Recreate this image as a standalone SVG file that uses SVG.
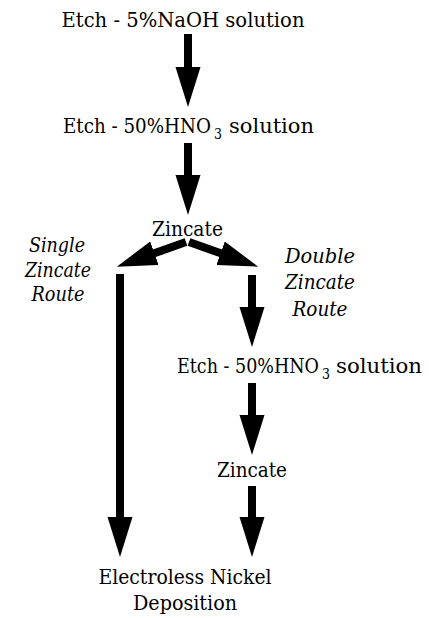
<svg xmlns="http://www.w3.org/2000/svg" width="429" height="618" viewBox="0 0 429 618">
<style>
text{font-family:'DejaVu Serif','Liberation Serif','Times New Roman',serif;fill:#000}
.t{font-size:20px;font-stretch:condensed}
.c{text-anchor:middle}
.sub{font-size:14px}
.i{font-size:20px;font-style:italic;text-anchor:middle}
.s{stroke:#000;stroke-width:8;fill:none}
</style>
<defs>
<marker id="ah" markerUnits="userSpaceOnUse" markerWidth="41" markerHeight="26" refX="1" refY="12.5" orient="auto" viewBox="0 0 41 26">
<path d="M0,0 L40,12.5 L0,25 z" fill="#000"/>
</marker>
</defs>
<rect width="429" height="618" fill="#fff"/>
<g id="n1"><text class="t c" x="183" y="27" textLength="243" lengthAdjust="spacingAndGlyphs">Etch - 5%NaOH solution</text></g>
<g id="n2"><text class="t" x="63" y="133" textLength="148" lengthAdjust="spacingAndGlyphs">Etch - 50%HNO</text><text class="sub" x="214" y="139" textLength="8" lengthAdjust="spacingAndGlyphs">3</text><text class="t" x="229" y="133" textLength="85" lengthAdjust="spacingAndGlyphs">solution</text></g>
<g id="n3"><text class="t c" x="187.5" y="236" textLength="71" lengthAdjust="spacingAndGlyphs">Zincate</text></g>
<g id="n4"><text class="t" x="177" y="373" textLength="142" lengthAdjust="spacingAndGlyphs">Etch - 50%HNO</text><text class="sub" x="322" y="379" textLength="8" lengthAdjust="spacingAndGlyphs">3</text><text class="t" x="336" y="373" textLength="86" lengthAdjust="spacingAndGlyphs">solution</text></g>
<g id="n5"><text class="t c" x="252" y="477" textLength="70" lengthAdjust="spacingAndGlyphs">Zincate</text></g>
<g id="n6"><text class="t c" x="185" y="584" textLength="173" lengthAdjust="spacingAndGlyphs">Electroless Nickel</text><text class="t c" x="185" y="610" textLength="104" lengthAdjust="spacingAndGlyphs">Deposition</text></g>
<g id="lbl-single"><text class="i" x="57" y="252" textLength="56" lengthAdjust="spacingAndGlyphs">Single</text><text class="i" x="58" y="277" textLength="66" lengthAdjust="spacingAndGlyphs">Zincate</text><text class="i" x="58" y="301" textLength="53" lengthAdjust="spacingAndGlyphs">Route</text></g>
<g id="lbl-double"><text class="i" x="320" y="263" textLength="70" lengthAdjust="spacingAndGlyphs">Double</text><text class="i" x="320" y="289" textLength="70" lengthAdjust="spacingAndGlyphs">Zincate</text><text class="i" x="320" y="316" textLength="55" lengthAdjust="spacingAndGlyphs">Route</text></g>
<g id="connectors">
<line class="s" x1="188" y1="34" x2="188" y2="68" marker-end="url(#ah)"/>
<line class="s" x1="188" y1="143" x2="188" y2="176" marker-end="url(#ah)"/>
<line class="s" x1="186" y1="242" x2="153.5" y2="253.6" marker-end="url(#ah)"/>
<line class="s" x1="189" y1="242" x2="221.5" y2="253.6" marker-end="url(#ah)"/>
<line class="s" x1="120" y1="274" x2="120" y2="518" marker-end="url(#ah)"/>
<line class="s" x1="252" y1="275" x2="252" y2="308" marker-end="url(#ah)"/>
<line class="s" x1="252" y1="383" x2="252" y2="416" marker-end="url(#ah)"/>
<line class="s" x1="252" y1="486" x2="252" y2="518" marker-end="url(#ah)"/>
</g>
</svg>
